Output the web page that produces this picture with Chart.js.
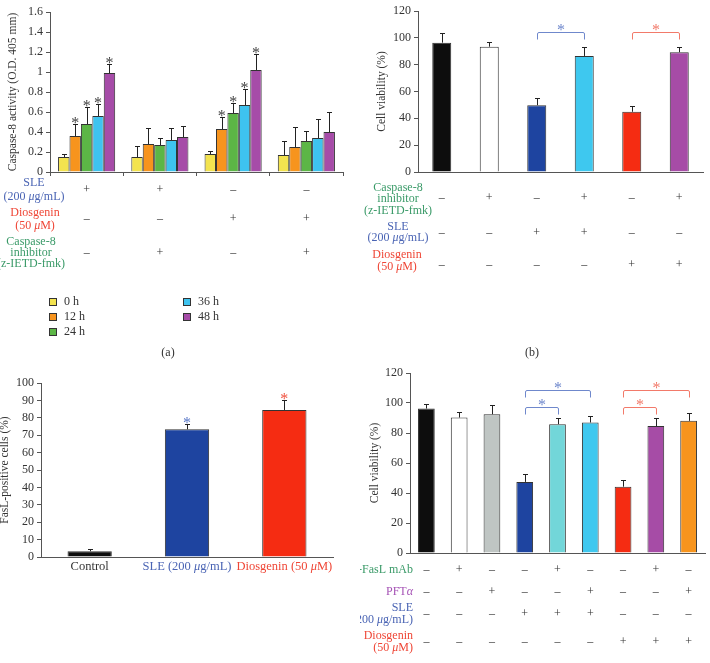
<!DOCTYPE html>
<html>
<head>
<meta charset="utf-8">
<script src="https://cdn.jsdelivr.net/npm/chart.js@4.4.0/dist/chart.umd.min.js"></script>
<style>
  body { margin: 0; width: 710px; height: 663px; overflow: hidden; background: #fff; position: relative; font-family: "Liberation Serif", serif; }
  canvas { position: absolute; }
  .cap { position: absolute; font-size: 12px; color: #333; transform: translate(-50%, -50%); }
</style>
</head>
<body>
<canvas id="ca" width="355" height="362" style="left:0;top:0"></canvas>
<canvas id="cb" width="350" height="362" style="left:360px;top:0"></canvas>
<canvas id="cc" width="355" height="301" style="left:0;top:362px"></canvas>
<canvas id="cd" width="350" height="301" style="left:360px;top:362px"></canvas>
<div class="cap" style="left:168px;top:352px">(a)</div>
<div class="cap" style="left:532px;top:352px">(b)</div>
<div class="cap" style="left:168px;top:668px">(c)</div>
<div class="cap" style="left:532px;top:668px">(d)</div>
<script>
// (a) caspase-8 activity, 4 treatment groups x 5 time points
const groupsA = ['1', '2', '3', '4'];
const hoursA = ['0 h', '12 h', '24 h', '36 h', '48 h'];
const h0 = [0.15, 0.15, 0.18, 0.17];
const h12 = [0.36, 0.28, 0.43, 0.25];
const h24 = [0.48, 0.27, 0.59, 0.31];
const h36 = [0.56, 0.32, 0.67, 0.34];
const h48 = [0.99, 0.35, 1.02, 0.40];
const h0Top = [0.18, 0.26, 0.21, 0.31];
const h12Top = [0.48, 0.44, 0.55, 0.45];
const h24Top = [0.65, 0.34, 0.69, 0.41];
const h36Top = [0.68, 0.44, 0.83, 0.53];
const h48Top = [1.08, 0.46, 1.18, 0.60];
const sleA = ['+', '+', '–', '–'];
const diosA = ['–', '–', '+', '+'];
const inhA = ['–', '+', '–', '+'];

// (b) cell viability with caspase-8 inhibitor
const barsB = ['1', '2', '3', '4', '5', '6'];
const viabB = [96.4, 93.4, 49.8, 86.5, 44.9, 89.3];
const viabBTop = [103.4, 96.7, 55, 93.5, 49.3, 93.5];
const inhB = ['–', '+', '–', '+', '–', '+'];
const sleB = ['–', '–', '+', '+', '–', '–'];
const diosB = ['–', '–', '–', '–', '+', '+'];

// (c) FasL-positive cells
const barsC = ['Control', 'SLE (200 {μ}g/mL)', 'Diosgenin (50 {μ}M)'];
const faslC = [3.3, 73.4, 84.5];
const faslCTop = [4.5, 76.7, 90];

// (d) cell viability with anti-FasL mAb / PFTα
const barsD = ['1', '2', '3', '4', '5', '6', '7', '8', '9'];
const viabD = [96.3, 90.3, 92.5, 47.4, 85.9, 87, 44.2, 84.6, 88.1];
const viabDTop = [99.6, 94, 98.5, 52.5, 89.7, 91.4, 48.7, 90, 93.6];
const faslD = ['–', '+', '–', '–', '+', '–', '–', '+', '–'];
const pftD = ['–', '–', '+', '–', '–', '+', '–', '–', '+'];
const sleD = ['–', '–', '–', '+', '+', '+', '–', '–', '–'];
const diosD = ['–', '–', '–', '–', '–', '–', '+', '+', '+'];

const SERIF = '"Liberation Serif", "Times New Roman", serif';
const BLUE_T = '#4a64b4', RED_T = '#ef4636', GREEN_T = '#3a9a68', PURPLE_T = '#a552b5';
Chart.defaults.font.family = SERIF;
Chart.defaults.font.size = 12;
Chart.defaults.color = '#333';
Chart.defaults.animation = false;

function richText(ctx, str, x, y, align, size) {
  const parts = str.split(/(\{[^}]*\})/).filter(Boolean)
    .map(p => p[0] === '{' ? [p.slice(1, -1), true] : [p, false]);
  const font = it => (it ? 'italic ' : '') + size + 'px ' + SERIF;
  let w = 0;
  parts.forEach(([t, it]) => { ctx.font = font(it); w += ctx.measureText(t).width; });
  let cx = align === 'center' ? x - w / 2 : align === 'right' ? x - w : x;
  ctx.textAlign = 'left';
  parts.forEach(([t, it]) => { ctx.font = font(it); ctx.fillText(t, cx, y); cx += ctx.measureText(t).width; });
}

function star(ctx, x, y, color) {
  ctx.fillStyle = color;
  ctx.textBaseline = 'alphabetic';
  ctx.font = '16px ' + SERIF;
  ctx.textAlign = 'center';
  ctx.fillText('*', x, y);
}

function extras(cfg) {
  return {
    id: 'extras',
    afterDatasetsDraw(chart) {
      const ctx = chart.ctx, xs = chart.scales.x, ys = chart.scales.y;
      ctx.save();
      ctx.lineWidth = 1;
      const tops = {};
      (cfg.errs || []).forEach((arr, di) => {
        chart.getDatasetMeta(di).data.forEach((bar, j) => {
          const top = Math.round(ys.getPixelForValue(arr[j])) + 0.5;
          const bx = Math.round(bar.x) + 0.5;
          tops[di + '_' + j] = top;
          ctx.strokeStyle = '#222';
          ctx.beginPath();
          ctx.moveTo(bx, bar.y); ctx.lineTo(bx, top);
          ctx.moveTo(bx - 2.5, top); ctx.lineTo(bx + 2.5, top);
          ctx.stroke();
        });
      });
      (cfg.stars || []).forEach(([di, j, color]) => {
        const bar = chart.getDatasetMeta(di).data[j];
        star(ctx, bar.x, tops[di + '_' + j] + 3, color);
      });
      (cfg.brackets || []).forEach(([i1, i2, v, color]) => {
        const x1 = Math.round(xs.getPixelForValue(i1)) + 0.5;
        const x2 = Math.round(xs.getPixelForValue(i2)) + 0.5;
        const y = Math.round(ys.getPixelForValue(v)) + 0.5;
        ctx.strokeStyle = color;
        ctx.lineJoin = 'round';
        ctx.beginPath();
        ctx.moveTo(x1, y + 7); ctx.lineTo(x1, y + 1.5);
        ctx.quadraticCurveTo(x1, y, x1 + 1.5, y);
        ctx.lineTo(x2 - 1.5, y);
        ctx.quadraticCurveTo(x2, y, x2, y + 1.5);
        ctx.lineTo(x2, y + 7);
        ctx.stroke();
        star(ctx, (x1 + x2) / 2, y + 2, color);
      });
      ctx.textBaseline = 'middle';
      (cfg.rows || []).forEach(r => {
        ctx.fillStyle = r.color || '#333';
        (r.label || []).forEach((line, k) => richText(ctx, line, r.lx, r.ly[k], r.align || 'center', 12));
        r.signs.forEach((s, i) => {
          ctx.fillStyle = Array.isArray(r.signColor) ? r.signColor[i] : (r.signColor || '#333');
          richText(ctx, s, xs.getPixelForValue(i), r.sy, 'center', r.signSize || 12);
        });
      });
      if (cfg.legend) {
        chart.data.datasets.forEach((ds, di) => {
          const [lx, ly] = cfg.legend[di];
          ctx.fillStyle = ds.backgroundColor;
          ctx.fillRect(lx, ly - 4, 8, 8);
          ctx.strokeStyle = '#333';
          ctx.strokeRect(lx + 0.5, ly - 3.5, 7, 7);
          ctx.fillStyle = '#333';
          ctx.font = '12px ' + SERIF;
          ctx.textAlign = 'left';
          ctx.fillText(ds.label, lx + 15, ly);
        });
      }
      ctx.restore();
    }
  };
}

function yScale(max, step, title, width, titlePad, fmt) {
  return {
    min: 0, max: max,
    ticks: { stepSize: step, padding: 3, callback: fmt || (v => String(v)) },
    grid: { drawOnChartArea: false, tickLength: 4, color: '#555' },
    border: { color: '#555' },
    title: { display: true, text: title, font: { size: 11.5 }, padding: { top: titlePad, bottom: 0 } },
    afterFit: s => { s.width = width; }
  };
}

function xScale(tickMarks) {
  return {
    grid: { display: tickMarks, drawOnChartArea: false, offset: true, tickLength: 4, color: '#555' },
    border: { color: '#555' },
    ticks: { display: false },
    afterFit: s => { s.height = 0; }
  };
}

const basePlugins = { legend: { display: false }, tooltip: { enabled: false } };

// ---- (a)
const colorsA = ['#f3e34f', '#f7941d', '#5cb646', '#3ec3ef', '#a64ca8'];
const meansA = [h0, h12, h24, h36, h48];
const topsA = [h0Top, h12Top, h24Top, h36Top, h48Top];
const starsA = [];
[1, 2, 3, 4].forEach(di => [0, 2].forEach(j => starsA.push([di, j, '#444'])));
new Chart('ca', {
  type: 'bar',
  data: {
    labels: groupsA,
    datasets: hoursA.map((h, i) => ({
      label: h, data: meansA[i], backgroundColor: colorsA[i],
      borderColor: '#333', borderWidth: 1, categoryPercentage: 0.78, barPercentage: 1
    }))
  },
  options: {
    responsive: false,
    layout: { padding: { left: 0, right: 12, top: 12, bottom: 190 } },
    plugins: basePlugins,
    scales: {
      x: xScale(true),
      y: yScale(1.6, 0.2, 'Caspase-8 activity (O.D. 405 mm)', 50, 6, v => String(+v.toFixed(1)))
    }
  },
  plugins: [extras({
    errs: topsA,
    stars: starsA,
    rows: [
      { label: ['SLE', '(200 {μ}g/mL)'], lx: 34, ly: [183, 197], color: BLUE_T, signs: sleA, sy: 190 },
      { label: ['Diosgenin', '(50 {μ}M)'], lx: 35, ly: [213, 226], color: RED_T, signs: diosA, sy: 219 },
      { label: ['Caspase-8', 'inhibitor', '(z-IETD-fmk)'], lx: 31, ly: [242, 253, 264], color: GREEN_T, signs: inhA, sy: 253 }
    ],
    legend: [[49, 302], [49, 317], [49, 332], [183, 302], [183, 317]]
  })]
});

// ---- (b)
const colorsB = ['#0d0d0d', '#ffffff', '#1e44a0', '#3ec8ef', '#f52c12', '#a64ca6'];
new Chart('cb', {
  type: 'bar',
  data: {
    labels: barsB,
    datasets: [{ data: viabB, backgroundColor: colorsB, borderColor: '#333', borderWidth: 1, categoryPercentage: 1, barPercentage: 0.4 }]
  },
  options: {
    responsive: false,
    layout: { padding: { left: 0, right: 7, top: 11, bottom: 190 } },
    plugins: basePlugins,
    scales: { x: xScale(false), y: yScale(120, 20, 'Cell viability (%)', 58, 15) }
  },
  plugins: [extras({
    errs: [viabBTop],
    brackets: [[2, 3, 104.3, '#6f88cc'], [4, 5, 104.3, '#f27a6a']],
    rows: [
      { label: ['Caspase-8', 'inhibitor', '(z-IETD-fmk)'], lx: 38, ly: [188, 199, 211], color: GREEN_T, signs: inhB, sy: 198 },
      { label: ['SLE', '(200 {μ}g/mL)'], lx: 38, ly: [227, 238], color: BLUE_T, signs: sleB, sy: 233 },
      { label: ['Diosgenin', '(50 {μ}M)'], lx: 37, ly: [255, 267], color: RED_T, signs: diosB, sy: 265 }
    ]
  })]
});

// ---- (c)
const colorsC = ['#0d0d0d', '#1e44a0', '#f52c12'];
new Chart('cc', {
  type: 'bar',
  data: {
    labels: barsC,
    datasets: [{ data: faslC, backgroundColor: colorsC, borderColor: '#333', borderWidth: 1, categoryPercentage: 1, barPercentage: 0.455 }]
  },
  options: {
    responsive: false,
    layout: { padding: { left: 0, right: 22, top: 21, bottom: 106 } },
    plugins: basePlugins,
    scales: { x: xScale(false), y: yScale(100, 10, 'FasL-positive cells (%)', 41, -2) }
  },
  plugins: [extras({
    errs: [faslCTop],
    stars: [[0, 1, '#5a78c8'], [0, 2, '#f0503e']],
    rows: [
      { signs: barsC, sy: 205, signColor: ['#333', BLUE_T, RED_T], signSize: 12.5 }
    ]
  })]
});

// ---- (d)
const colorsD = ['#0d0d0d', '#ffffff', '#bfc5c3', '#1e44a0', '#72d6d9', '#40c8ef', '#f52c12', '#a64ca6', '#f7941d'];
new Chart('cd', {
  type: 'bar',
  data: {
    labels: barsD,
    datasets: [{ data: viabD, backgroundColor: colorsD, borderColor: '#333', borderWidth: 1, categoryPercentage: 1, barPercentage: 0.51 }]
  },
  options: {
    responsive: false,
    layout: { padding: { left: 0, right: 5, top: 11, bottom: 110 } },
    plugins: basePlugins,
    scales: { x: xScale(false), y: yScale(120, 20, 'Cell viability (%)', 50, 8) }
  },
  plugins: [extras({
    errs: [viabDTop],
    brackets: [
      [3, 4, 97.3, '#6f88cc'], [3, 5, 108.5, '#6f88cc'],
      [6, 7, 97.3, '#f27a6a'], [6, 8, 108.5, '#f27a6a']
    ],
    rows: [
      { label: ['{α}-FasL mAb'], lx: 53, ly: [208], align: 'right', color: GREEN_T, signs: faslD, sy: 208 },
      { label: ['PFT{α}'], lx: 53, ly: [230], align: 'right', color: PURPLE_T, signs: pftD, sy: 230 },
      { label: ['SLE', '(200 {μ}g/mL)'], lx: 53, ly: [246, 258], align: 'right', color: BLUE_T, signs: sleD, sy: 252 },
      { label: ['Diosgenin', '(50 {μ}M)'], lx: 53, ly: [274, 286], align: 'right', color: RED_T, signs: diosD, sy: 280 }
    ]
  })]
});
</script>
</body>
</html>
